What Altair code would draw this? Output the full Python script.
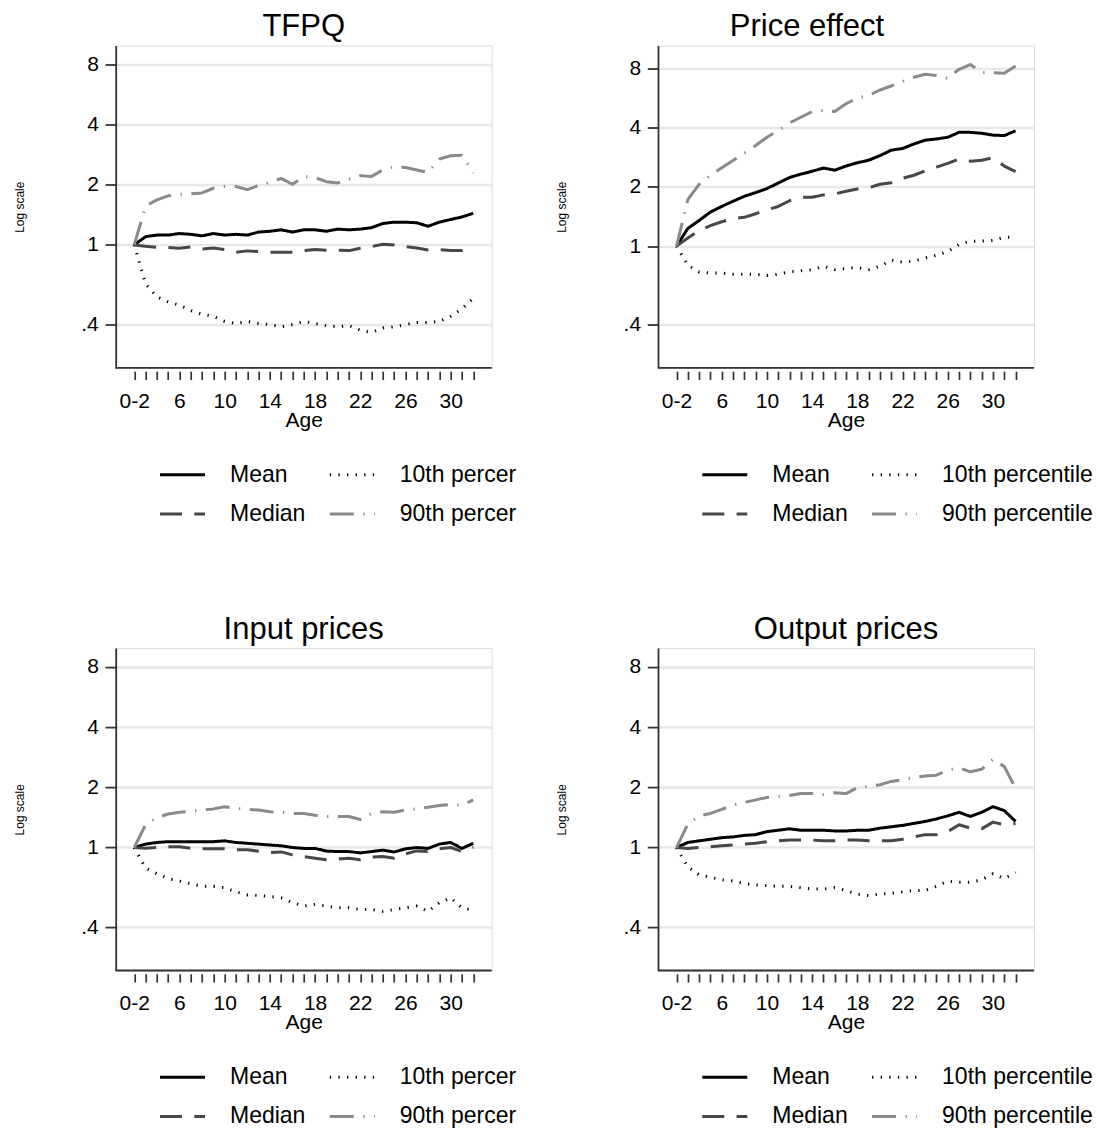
import altair as alt
import pandas as pd

FONT = "Liberation Sans"

# ---------------- data ----------------
ages = list(range(2, 33))
series_names = ["Mean", "10th percentile", "Median", "90th percentile"]
labels_left = ["Mean", "10th percer", "Median", "90th percer"]
labels_right = ["Mean", "10th percentile", "Median", "90th percentile"]
series_colors = ["#000000", "#000000", "#474747", "#8a8a8a"]
series_dashes = [[1, 0], [1.3, 7.3], [22, 12.3], [24, 9.5, 1.3, 9.5]]

panel_titles = ["TFPQ", "Price effect", "Input prices", "Output prices"]

y_tick_values = [0.4, 1, 2, 4, 8]
y_tick_labels = [".4", "1", "2", "4", "8"]
x_label_values = [2, 6, 10, 14, 18, 22, 26, 30]
x_label_text = ["0-2", "6", "10", "14", "18", "22", "26", "30"]

tfpq_mean = [1.00, 1.10, 1.12, 1.12, 1.14, 1.13, 1.11, 1.14, 1.12, 1.13, 1.12, 1.16, 1.17, 1.19, 1.16, 1.19,
             1.19, 1.17, 1.20, 1.19, 1.20, 1.22, 1.28, 1.30, 1.30, 1.29, 1.24, 1.30, 1.34, 1.38, 1.44]
tfpq_median = [1.00, 0.985, 0.974, 0.970, 0.963, 0.977, 0.955, 0.966, 0.948, 0.919, 0.934, 0.926, 0.919, 0.919,
               0.919, 0.937, 0.948, 0.941, 0.941, 0.937, 0.963, 0.981, 1.008, 1.00, 0.981, 0.966, 0.944, 0.948,
               0.937, 0.937, 0.974]
tfpq_p10 = [1.00, 0.64, 0.55, 0.52, 0.50, 0.47, 0.45, 0.44, 0.415, 0.405, 0.415, 0.405, 0.40, 0.39, 0.40, 0.415,
            0.405, 0.395, 0.39, 0.395, 0.375, 0.365, 0.385, 0.39, 0.40, 0.41, 0.41, 0.415, 0.44, 0.48, 0.54]
tfpq_p90 = [1.00, 1.56, 1.68, 1.76, 1.79, 1.80, 1.82, 1.92, 1.96, 1.96, 1.89, 1.98, 2.05, 2.15, 2.01, 2.20,
            2.17, 2.07, 2.04, 2.13, 2.22, 2.20, 2.37, 2.46, 2.44, 2.37, 2.30, 2.69, 2.79, 2.81, 2.29]

price_mean = [1.00, 1.23, 1.35, 1.49, 1.59, 1.69, 1.79, 1.87, 1.96, 2.09, 2.23, 2.32, 2.40, 2.49, 2.43, 2.55,
              2.65, 2.73, 2.88, 3.07, 3.13, 3.30, 3.45, 3.50, 3.57, 3.78, 3.78, 3.74, 3.66, 3.64, 3.85]
price_median = [1.00, 1.10, 1.20, 1.27, 1.33, 1.38, 1.40, 1.46, 1.53, 1.59, 1.70, 1.77, 1.77, 1.82, 1.84, 1.90,
                1.95, 1.98, 2.06, 2.10, 2.21, 2.29, 2.41, 2.52, 2.63, 2.77, 2.70, 2.73, 2.81, 2.55, 2.39]
price_p10 = [1.00, 0.80, 0.74, 0.73, 0.73, 0.72, 0.72, 0.72, 0.71, 0.72, 0.74, 0.75, 0.76, 0.79, 0.76, 0.77,
             0.78, 0.76, 0.79, 0.85, 0.83, 0.84, 0.87, 0.90, 0.94, 1.02, 1.06, 1.06, 1.07, 1.11, 1.11]
price_p90 = [1.00, 1.72, 2.06, 2.29, 2.50, 2.72, 2.97, 3.24, 3.57, 3.86, 4.22, 4.51, 4.82, 4.88, 4.82, 5.28,
             5.64, 5.83, 6.20, 6.50, 6.85, 7.20, 7.45, 7.35, 7.10, 7.90, 8.35, 7.60, 7.60, 7.55, 8.20]

input_mean = [1.00, 1.04, 1.06, 1.07, 1.07, 1.07, 1.07, 1.07, 1.08, 1.06, 1.05, 1.04, 1.03, 1.02, 1.00, 0.99,
              0.99, 0.96, 0.955, 0.955, 0.94, 0.955, 0.97, 0.95, 0.985, 1.00, 0.99, 1.04, 1.06, 0.99, 1.05]
input_median = [1.00, 0.992, 1.00, 1.008, 1.008, 0.992, 0.985, 0.985, 0.985, 0.974, 0.974, 0.959, 0.944, 0.951,
                0.919, 0.902, 0.885, 0.868, 0.875, 0.885, 0.868, 0.895, 0.902, 0.885, 0.930, 0.962, 0.955,
                0.985, 1.00, 0.955, 1.004]
input_p10 = [1.00, 0.79, 0.74, 0.70, 0.68, 0.66, 0.64, 0.64, 0.63, 0.60, 0.58, 0.576, 0.57, 0.56, 0.53, 0.51,
             0.52, 0.51, 0.50, 0.50, 0.49, 0.49, 0.48, 0.49, 0.50, 0.51, 0.48, 0.53, 0.56, 0.50, 0.485]
input_p90 = [1.00, 1.30, 1.41, 1.47, 1.50, 1.52, 1.54, 1.56, 1.60, 1.57, 1.55, 1.54, 1.51, 1.50, 1.48, 1.48,
             1.45, 1.43, 1.43, 1.43, 1.38, 1.48, 1.51, 1.50, 1.54, 1.56, 1.59, 1.62, 1.64, 1.63, 1.73]

output_mean = [1.00, 1.06, 1.08, 1.10, 1.12, 1.13, 1.15, 1.16, 1.20, 1.22, 1.24, 1.22, 1.22, 1.22, 1.21, 1.21,
               1.22, 1.22, 1.25, 1.27, 1.29, 1.32, 1.35, 1.39, 1.44, 1.50, 1.43, 1.50, 1.60, 1.53, 1.35]
output_median = [1.00, 0.99, 1.00, 1.01, 1.02, 1.03, 1.04, 1.05, 1.07, 1.08, 1.09, 1.09, 1.09, 1.08, 1.08, 1.09,
                 1.09, 1.08, 1.08, 1.08, 1.10, 1.13, 1.16, 1.16, 1.20, 1.30, 1.25, 1.24, 1.34, 1.30, 1.32]
output_p10 = [1.00, 0.80, 0.73, 0.71, 0.69, 0.68, 0.66, 0.65, 0.645, 0.64, 0.64, 0.63, 0.62, 0.62, 0.63, 0.61,
              0.585, 0.575, 0.586, 0.59, 0.60, 0.61, 0.61, 0.64, 0.68, 0.67, 0.67, 0.69, 0.74, 0.70, 0.75]
output_p90 = [1.00, 1.31, 1.44, 1.48, 1.55, 1.63, 1.68, 1.73, 1.78, 1.80, 1.82, 1.86, 1.86, 1.84, 1.88, 1.86,
              1.99, 2.02, 2.06, 2.14, 2.18, 2.24, 2.28, 2.30, 2.44, 2.50, 2.39, 2.46, 2.76, 2.54, 1.98]

panel_series = [
    [tfpq_mean, tfpq_p10, tfpq_median, tfpq_p90],
    [price_mean, price_p10, price_median, price_p90],
    [input_mean, input_p10, input_median, input_p90],
    [output_mean, output_p10, output_median, output_p90],
]
panel_ydomains = [[0.243, 9.92], [0.241, 10.43], [0.243, 9.92], [0.243, 9.92]]
panel_legend_labels = [labels_left, labels_right, labels_left, labels_right]
panel_title_dx = [0, -39, 0, 0]

# ---------------- layout constants ----------------
W, H = 376, 322.4
AXIS_COLOR = "#333333"


def value_ternary(values, texts, default):
    expr = default
    for v, t in reversed(list(zip(values, texts))):
        expr = f"datum.value == {v} ? '{t}' : ({expr})"
    return expr


def label_ternary(fulls, shorts):
    expr = "datum.label"
    for f, s in reversed(list(zip(fulls, shorts))):
        expr = f"datum.label == '{f}' ? '{s}' : ({expr})"
    return expr


def make_panel(title, series_vals, ydom, leg_labels, title_dx):
    rows = []
    for name, vals in zip(series_names, series_vals):
        for a, v in zip(ages, vals):
            rows.append({"age": a, "value": v, "series": name})
    df = pd.DataFrame(rows)

    legend = alt.Legend(
        title=None, orient="none", legendX=42.8, legendY=417.5, columns=2, direction="horizontal",
        symbolType="stroke", symbolSize=2025, symbolStrokeWidth=3,
        clipHeight=23, rowPadding=15.4, columnPadding=22.8, labelOffset=23.5,
        labelFont=FONT, labelFontSize=23, labelColor="#000000", labelLimit=400,
        labelExpr=label_ternary(series_names, leg_labels), padding=0,
    )

    x_axis = alt.Axis(
        values=ages, labelExpr=value_ternary(x_label_values, x_label_text, "''"),
        title="Age", domain=False, grid=False, offset=3.3,
        ticks=True, tickSize=8.3, tickWidth=1.7, tickColor=AXIS_COLOR,
        labelFont=FONT, labelFontSize=21, labelColor="#000000", labelBaseline="alphabetic",
        labelPadding=27.7, labelOverlap=False, labelFlush=False,
        titleFont=FONT, titleFontSize=21, titleFontWeight="normal", titleColor="#000000",
        titleBaseline="alphabetic", titleX=W / 2, titleY=55, titleAlign="center",
    )
    y_axis = alt.Axis(
        values=y_tick_values, labelExpr=value_ternary(y_tick_values, y_tick_labels, "datum.label"),
        title="Log scale", grid=True, gridColor="#e8e8e8", gridWidth=2.5,
        domain=True, domainColor=AXIS_COLOR, domainWidth=1.8,
        ticks=True, tickSize=10.7, tickWidth=1.8, tickColor=AXIS_COLOR,
        labelFont=FONT, labelFontSize=21, labelColor="#000000", labelPadding=6.7,
        labelOverlap=False, labelFlush=False,
        titleFont=FONT, titleFontSize=12, titleFontWeight="normal", titleColor="#000000",
        titleAngle=270, titleX=-92, titleY=H / 2, titleBaseline="alphabetic", titleAlign="center",
    )

    lines = alt.Chart(df).mark_line(strokeWidth=3, strokeCap="butt", strokeJoin="round").encode(
        x=alt.X("age:Q", scale=alt.Scale(domain=[0.36, 33.63], nice=False, zero=False), axis=x_axis),
        y=alt.Y("value:Q", scale=alt.Scale(type="log", domain=ydom, nice=False), axis=y_axis),
        color=alt.Color("series:N", scale=alt.Scale(domain=series_names, range=series_colors), legend=legend),
        strokeDash=alt.StrokeDash("series:N", scale=alt.Scale(domain=series_names, range=series_dashes),
                                  legend=legend),
        order=alt.Order("age:Q"),
    )

    x_domain_line = alt.Chart(alt.Data(values=[{}])).mark_rule(
        color=AXIS_COLOR, strokeWidth=1.8
    ).encode(x=alt.value(0), x2=alt.value(W), y=alt.value(H))

    title_text = alt.Chart(alt.Data(values=[{"title": title}])).mark_text(
        font=FONT, fontSize=31, color="#000000", align="center", baseline="alphabetic", dx=title_dx
    ).encode(x=alt.value(W / 2), y=alt.value(-9.5), text="title:N")

    return alt.layer(lines, x_domain_line, title_text).properties(width=W, height=H)


panels = [
    make_panel(t, s, d, l, dx)
    for t, s, d, l, dx in zip(panel_titles, panel_series, panel_ydomains, panel_legend_labels, panel_title_dx)
]

chart = alt.concat(
    *panels, columns=2, spacing={"row": 279.6, "column": 166.3}, bounds="flush"
).resolve_scale(
    color="independent", strokeDash="independent", x="independent", y="independent"
).properties(
    padding={"left": 4.7, "top": 2.5, "right": 0, "bottom": 0},
).configure_view(stroke=None).configure(background="white", font=FONT)

chart.save("out.html", embed_options={"renderer": "svg", "actions": False})
